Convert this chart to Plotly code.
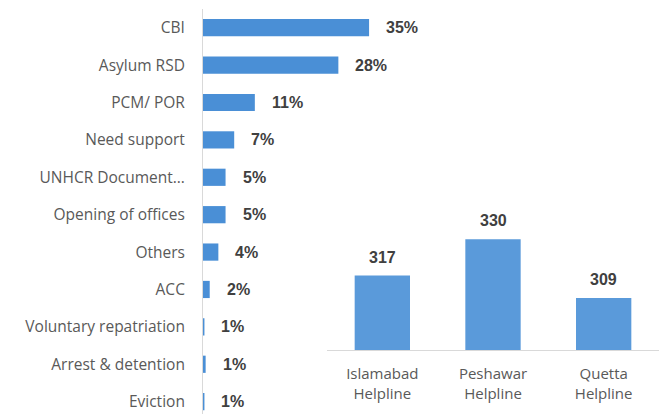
import plotly.graph_objects as go

# ---- data ----
categories = ["CBI", "Asylum RSD", "PCM/ POR", "Need support", "UNHCR Document…",
              "Opening of offices", "Others", "ACC", "Voluntary repatriation",
              "Arrest & detention", "Eviction"]
bar_values = [34.6, 28.2, 10.8, 6.5, 4.7, 4.7, 3.2, 1.4, 0.3, 0.55, 0.3]
pct_labels = ["35%", "28%", "11%", "7%", "5%", "5%", "4%", "2%", "1%", "1%", "1%"]

helplines = ["Islamabad<br>Helpline", "Peshawar<br>Helpline", "Quetta<br>Helpline"]
calls = [317, 330, 309]

W, H = 659, 414
FONT = "Open Sans"
LABEL_COLOR = "#595959"
VALUE_COLOR = "#404040"
AXIS_COLOR = "#D9D9D9"

fig = go.Figure()

fig.add_trace(go.Bar(
    x=bar_values, y=categories, orientation="h",
    marker=dict(color="#4A8FD6", line=dict(width=0)),
    width=0.46, xaxis="x", yaxis="y", hoverinfo="skip",
))

fig.add_trace(go.Bar(
    x=helplines, y=calls,
    marker=dict(color="#5A9ADA", line=dict(width=0)),
    width=0.5, xaxis="x2", yaxis="y2", hoverinfo="skip",
))

annotations = []
for c, v, t in zip(categories, bar_values, pct_labels):
    annotations.append(dict(
        x=v, y=c, xref="x", yref="y", text=t, showarrow=False,
        xanchor="left", yanchor="middle", xshift=15,
        font=dict(family="Liberation Sans", size=16, color=VALUE_COLOR, weight="bold"),
    ))
for h, v in zip(helplines, calls):
    annotations.append(dict(
        x=h, y=v, xref="x2", yref="y2", text=str(v), showarrow=False,
        xanchor="center", yanchor="bottom", yshift=8,
        font=dict(family="Liberation Sans", size=16, color=VALUE_COLOR, weight="bold"),
    ))

fig.update_layout(
    width=W, height=H,
    margin=dict(l=0, r=0, t=0, b=0),
    paper_bgcolor="white", plot_bgcolor="white",
    showlegend=False,
    annotations=annotations,
    font=dict(family=FONT, color=LABEL_COLOR),
    xaxis=dict(domain=[203 / W, 395 / W], range=[0, 40], visible=False, fixedrange=True),
    yaxis=dict(domain=[0, 405 / H], type="category", categoryorder="array",
               categoryarray=categories, range=[10.33, -0.5],
               showline=True, linecolor=AXIS_COLOR, linewidth=1,
               showgrid=False, zeroline=False, ticks="",
               ticklabelstandoff=14,
               tickfont=dict(family=FONT, size=15.5, color=LABEL_COLOR),
               automargin=False),
    xaxis2=dict(domain=[327 / W, 1], anchor="y2", range=[-0.5, 2.5],
                showline=True, linecolor=AXIS_COLOR, linewidth=1,
                showgrid=False, zeroline=False, ticks="",
                tickfont=dict(family=FONT, size=15, color=LABEL_COLOR),
                ticklabelstandoff=10,
                automargin=False),
    yaxis2=dict(domain=[(H - 350) / H, (H - 200) / H], anchor="x2",
                range=[290.4, 344], visible=False),
)

fig.write_html(
    "out.html",
    config={"displayModeBar": False, "staticPlot": True},
    post_script="document.body.style.margin='0';document.body.style.overflow='hidden';",
)
